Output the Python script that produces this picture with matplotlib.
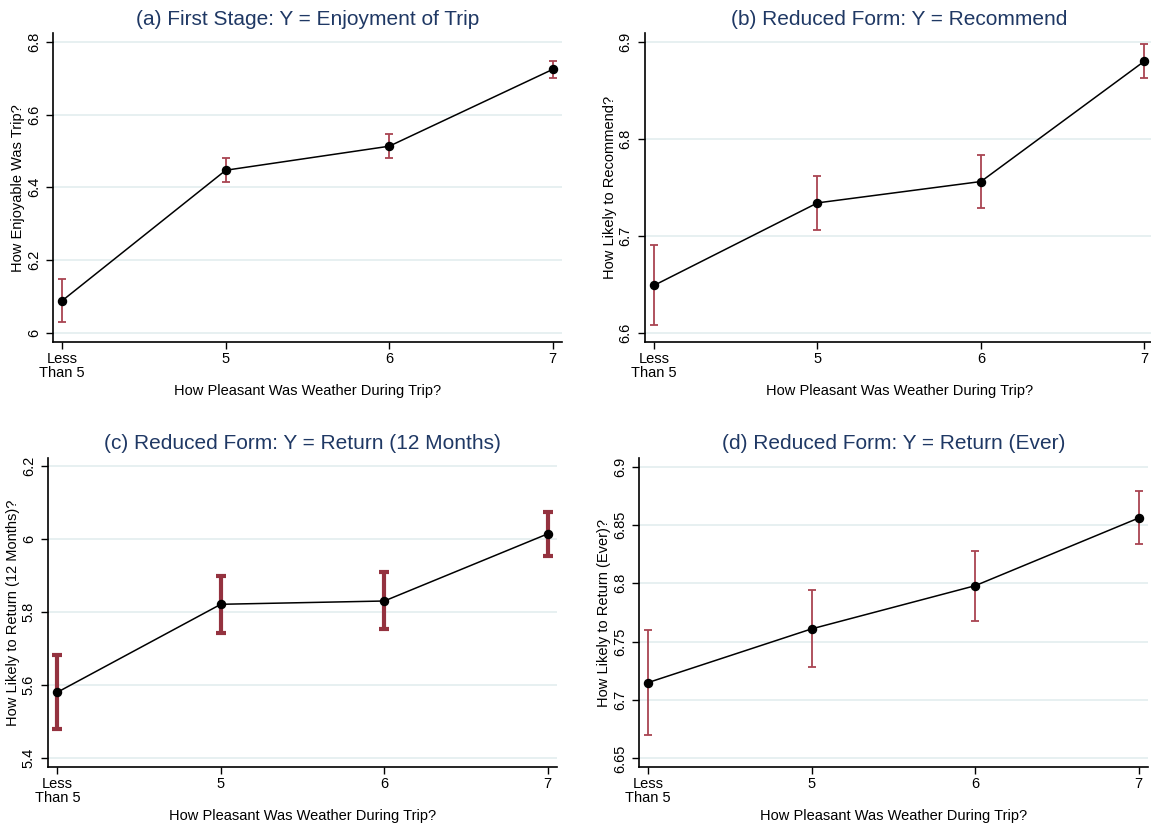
import matplotlib
matplotlib.use('Agg')
import matplotlib.pyplot as plt
import numpy as np

plt.rcParams['font.family'] = ['Liberation Sans', 'DejaVu Sans']

# weather categories (4 = "Less Than 5")
weather = [4, 5, 6, 7]
weather_labels = ['Less\nThan 5', '5', '6', '7']
xlab = 'How Pleasant Was Weather During Trip?'

# (a) enjoyment of trip
enjoy = [6.089, 6.447, 6.513, 6.724]
enjoy_lo = [6.030, 6.414, 6.480, 6.701]
enjoy_hi = [6.149, 6.481, 6.547, 6.748]

# (b) recommend
recommend = [6.649, 6.734, 6.756, 6.880]
recommend_lo = [6.608, 6.706, 6.729, 6.863]
recommend_hi = [6.691, 6.762, 6.783, 6.898]

# (c) return in 12 months
ret12 = [5.581, 5.822, 5.831, 6.015]
ret12_lo = [5.480, 5.744, 5.753, 5.955]
ret12_hi = [5.682, 5.899, 5.910, 6.075]

# (d) return ever
retever = [6.715, 6.761, 6.798, 6.856]
retever_lo = [6.670, 6.728, 6.768, 6.834]
retever_hi = [6.760, 6.794, 6.828, 6.879]

panels = [
    dict(title='(a) First Stage: Y = Enjoyment of Trip', ylabel='How Enjoyable Was Trip?',
         y=enjoy, lo=enjoy_lo, hi=enjoy_hi, ticks=[6, 6.2, 6.4, 6.6, 6.8],
         tlabels=['6', '6.2', '6.4', '6.6', '6.8'], ylim=(5.9745, 6.8239),
         pos=[0.0463, 0.5851, 0.4417, 0.3749], thick=False),
    dict(title='(b) Reduced Form: Y = Recommend', ylabel='How Likely to Recommend?',
         y=recommend, lo=recommend_lo, hi=recommend_hi, ticks=[6.6, 6.7, 6.8, 6.9],
         tlabels=['6.6', '6.7', '6.8', '6.9'], ylim=(6.5904, 6.909),
         pos=[0.5604, 0.5851, 0.4417, 0.3749], thick=False),
    dict(title='(c) Reduced Form: Y = Return (12 Months)', ylabel='How Likely to Return (12 Months)?',
         y=ret12, lo=ret12_lo, hi=ret12_hi, ticks=[5.4, 5.6, 5.8, 6, 6.2],
         tlabels=['5.4', '5.6', '5.8', '6', '6.2'], ylim=(5.3753, 6.2236),
         pos=[0.0420, 0.0699, 0.4417, 0.3753], thick=True),
    dict(title='(d) Reduced Form: Y = Return (Ever)', ylabel='How Likely to Return (Ever)?',
         y=retever, lo=retever_lo, hi=retever_hi, ticks=[6.65, 6.7, 6.75, 6.8, 6.85, 6.9],
         tlabels=['6.65', '6.7', '6.75', '6.8', '6.85', '6.9'], ylim=(6.6423, 6.9077),
         pos=[0.5554, 0.0699, 0.4417, 0.3753], thick=False),
]

fig = plt.figure(figsize=(11.51, 8.25), dpi=100)

for p in panels:
    ax = fig.add_axes(p['pos'])
    y = np.array(p['y'])
    lo = np.array(p['lo'])
    hi = np.array(p['hi'])
    if p['thick']:
        ax.errorbar(weather, y, yerr=[y - lo, hi - y], fmt='none', ecolor='#94323F',
                    elinewidth=3.0, capsize=3.4, capthick=3.0, zorder=2)
    else:
        ax.errorbar(weather, y, yerr=[y - lo, hi - y], fmt='none', ecolor='#A94452',
                    elinewidth=1.3, capsize=2.7, capthick=1.3, zorder=2)
    ax.plot(weather, y, color='black', lw=1.1, marker='o', markersize=5.8, zorder=3)

    ax.set_xlim(3.945, 7.055)
    ax.set_ylim(*p['ylim'])
    ax.set_xticks(weather)
    ax.set_xticklabels(weather_labels, fontsize=10.5, linespacing=1.0)
    ax.set_yticks(p['ticks'])
    ax.set_yticklabels(p['tlabels'], fontsize=10.5, rotation=90, va='center')
    ax.tick_params(axis='both', direction='out', length=5, width=1, color='black')
    ax.tick_params(axis='x', pad=2)
    ax.tick_params(axis='y', pad=4)
    ax.yaxis.grid(True, color='#E3EDEF', lw=1.2)
    ax.set_axisbelow(True)
    for s in ['top', 'right']:
        ax.spines[s].set_visible(False)
    for s in ['left', 'bottom']:
        ax.spines[s].set_linewidth(1.2)
        ax.spines[s].set_color('black')
    ax.set_xlabel(xlab, fontsize=10.5, labelpad=3)
    ax.set_ylabel(p['ylabel'], fontsize=10.5, labelpad=1)
    ax.set_title(p['title'], fontsize=15, color='#1F3864', pad=6)

plt.savefig('out.png', dpi=100)
